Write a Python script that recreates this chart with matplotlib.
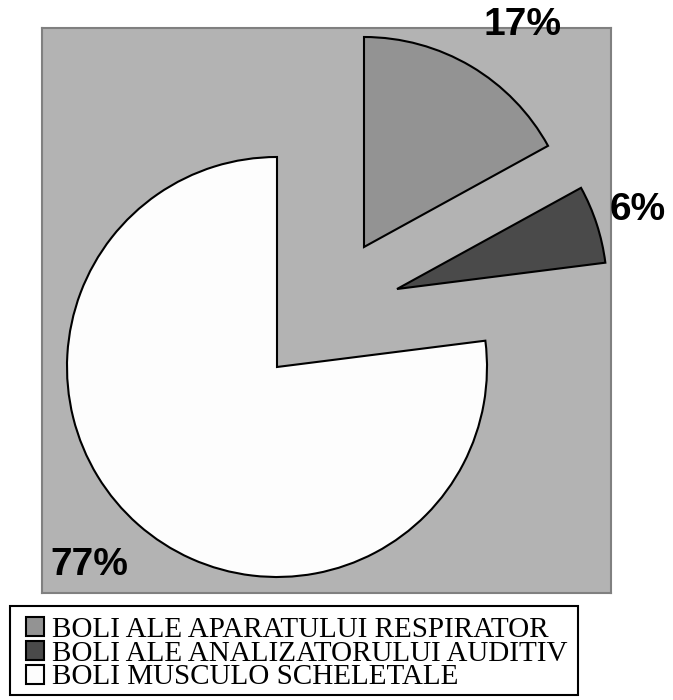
import matplotlib
matplotlib.use('Agg')
import matplotlib.pyplot as plt
from matplotlib.patches import Rectangle

# data
categories = ['BOLI ALE APARATULUI RESPIRATOR',
              'BOLI ALE ANALIZATORULUI AUDITIV',
              'BOLI MUSCULO SCHELETALE']
values = [17, 6, 77]
colors = ['#939393', '#4a4a4a', '#fdfdfd']

# layout (pixel units, y up)
center = (277, 333)
radius = 210
offsets = [(87, 120), (120, 78), (0, 0)]
label_pos = [(523, 675), (638, 490), (89, 135)]

W, H = 673, 700
fig = plt.figure(figsize=(6.73, 7.0), dpi=100)
fig.patch.set_facecolor('white')
ax = fig.add_axes([42 / W, 107 / H, 569 / W, 565 / H])
ax.set_facecolor('#b3b3b3')

wedges, _ = ax.pie(values, colors=colors, startangle=90, counterclock=False,
                   center=center, radius=radius, frame=True,
                   wedgeprops=dict(edgecolor='black', linewidth=1.5))
for w, (dx, dy) in zip(wedges, offsets):
    w.set_center((center[0] + dx, center[1] + dy))

total = sum(values)
for v, (x, y) in zip(values, label_pos):
    ax.text(x, y, '%d%%' % round(100.0 * v / total), ha='center', va='center',
            fontsize=28, fontweight='bold', family='Liberation Sans',
            color='black', clip_on=False)

ax.set_xlim(42, 611)
ax.set_ylim(107, 672)
ax.set_aspect('auto')
ax.set_xticks([])
ax.set_yticks([])
for s in ax.spines.values():
    s.set_color('#808080')
    s.set_linewidth(1.5)

# legend box drawn separately so the padding can be uneven
fig.patches.append(Rectangle((10 / W, 1 - 695 / H), 568 / W, 89 / H,
                             transform=fig.transFigure, fill=False,
                             edgecolor='black', linewidth=1.5))
leg = fig.legend(wedges, categories, loc='upper left',
                 bbox_to_anchor=(26 / W, 1 - 617 / H),
                 prop={'family': 'Liberation Serif', 'size': 21},
                 frameon=False,
                 handlelength=0.62, handleheight=0.62, handletextpad=0.27,
                 labelspacing=-0.08, borderpad=0, borderaxespad=0)

fig.savefig('out.png', dpi=100, facecolor='white')
